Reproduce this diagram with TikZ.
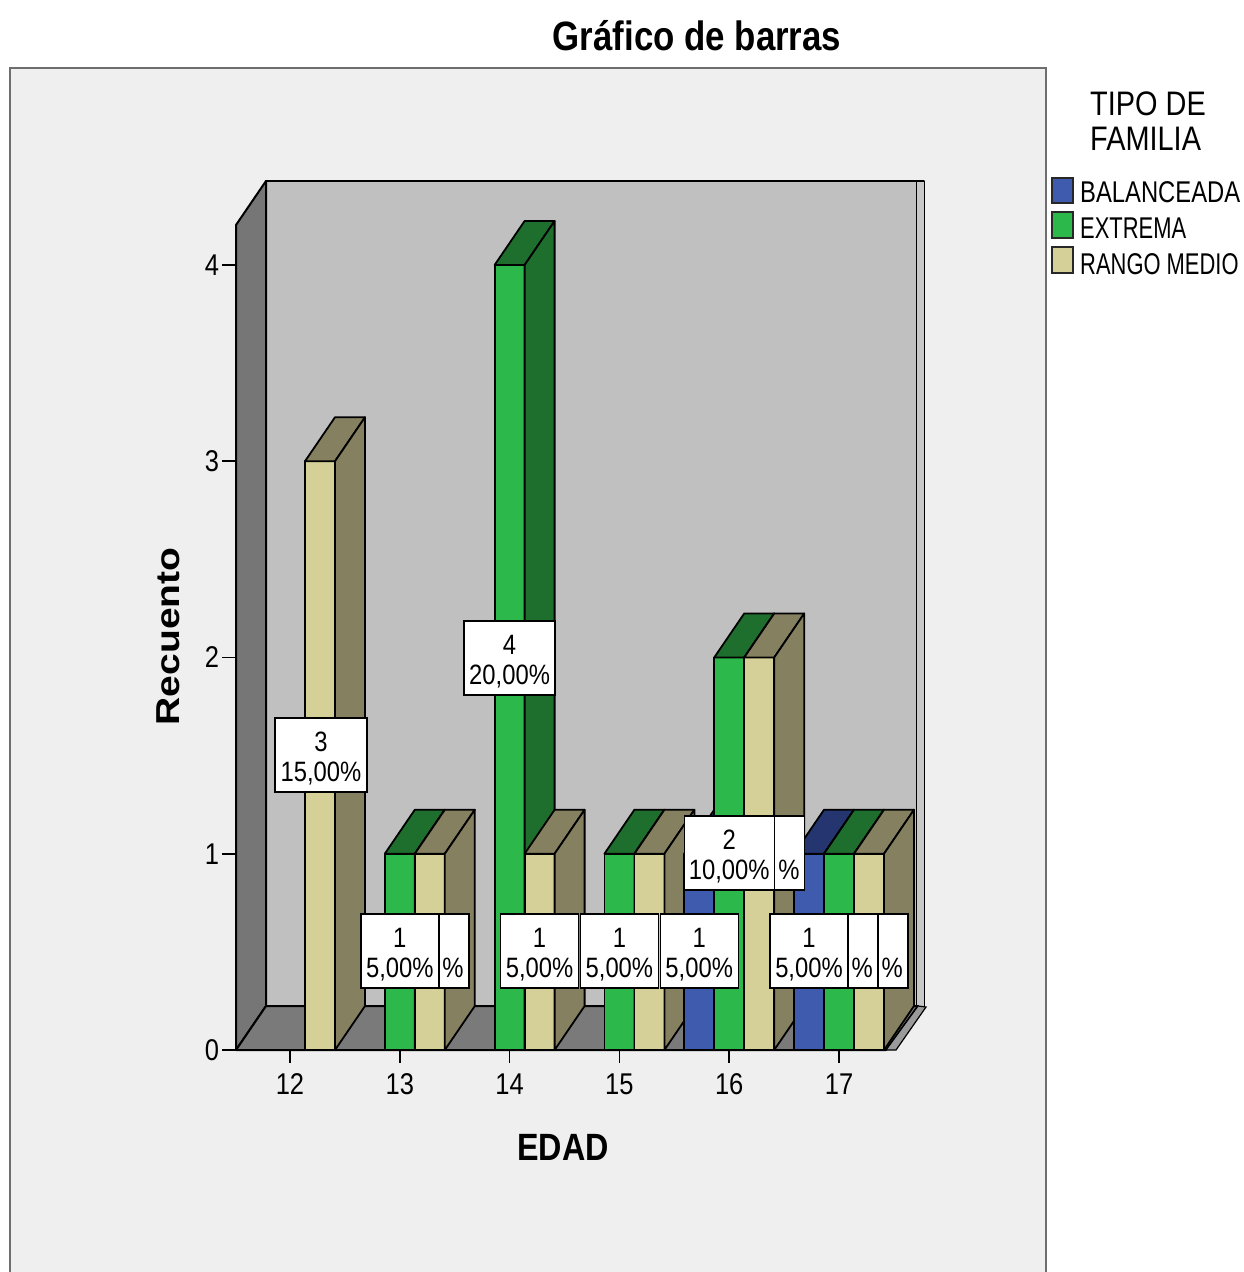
\documentclass[tikz,border=0pt]{standalone}
\usepackage{fontspec}
\setmainfont{Liberation Sans}[FakeStretch=0.85]
\newfontfamily\plainsans{Liberation Sans}
\usepackage{graphicx}
\definecolor{outerbg}{HTML}{EFEFEF}
\definecolor{framec}{HTML}{6E6E6E}
\definecolor{wallc}{HTML}{C0C0C0}
\definecolor{rwallc}{HTML}{C8C8C8}
\definecolor{sidewall}{HTML}{767676}
\definecolor{floorc}{HTML}{7A7A7A}
\definecolor{flooredge}{HTML}{9A9A9A}
\definecolor{bluef}{HTML}{3E5BAE}
\definecolor{blued}{HTML}{253570}
\definecolor{greenf}{HTML}{2DB84B}
\definecolor{greend}{HTML}{1E6F2D}
\definecolor{tanf}{HTML}{D5D097}
\definecolor{tand}{HTML}{858060}

\newcommand{\drawbar}[4]{%
  \pgfmathsetmacro{\barL}{#1}%
  \pgfmathsetmacro{\barT}{1050-196.25*#2}%
  \filldraw[barline, fill=#3] (\barL,1050) rectangle ({\barL+30},\barT);
  \filldraw[barline, fill=#4] (\barL,\barT) -- ({\barL+30},\barT) -- ({\barL+60},{\barT-44}) -- ({\barL+30},{\barT-44}) -- cycle;
  \filldraw[barline, fill=#4] ({\barL+30},1050) -- ({\barL+30},\barT) -- ({\barL+60},{\barT-44}) -- ({\barL+60},1006) -- cycle;
}
\newcommand{\fulllab}[6]{%
  \node[labbox, minimum width=#4] (#1) at (#2,#3) {};
  \node[labtxt] (#1-a) at (#2,{#3-4}) {#5};
  \node[labtxt] (#1-b) at (#2,{#3+26}) {#6};
}
\newcommand{\partlab}[5]{%
  \node[labbox, minimum width=#4] (#1) at (#2,#3) {};
  \node[labtxt] (#1-b) at (#2,{#3+26}) {\phantom{#5}\%};
}

\begin{document}
\begin{tikzpicture}[x=1pt,y=-1pt,
  barline/.style={draw=black, line width=1.8pt, line join=round},
  wall/.style={draw=black, line width=2pt, line join=round},
  axisline/.style={draw=black, line width=1.6pt},
  labbox/.style={draw=black, fill=white, line width=1.4pt, minimum height=74, inner sep=0pt},
  labtxt/.style={anchor=base, inner sep=0pt, font=\fontsize{28}{30}\selectfont},
  ticklab/.style={inner sep=0pt, font=\fontsize{30}{30}\selectfont},
  legtxt/.style={anchor=base west, inner sep=0pt, font=\fontsize{30}{30}\selectfont},
  swatch/.style={draw={rgb,255:red,40;green,40;blue,40}, line width=1.6pt}]
\useasboundingbox (0,0) rectangle (1243,1272);
\clip (0,0) rectangle (1243,1272);
\fill[white] (0,0) rectangle (1243,1272);

% title
\node[anchor=base, inner sep=0pt, font=\bfseries\fontsize{41}{41}\selectfont] (title) at (697,50) {Gráfico de barras};

% outer chart frame
\filldraw[fill=outerbg, draw=framec, line width=2.5pt] (10,68) rectangle (1046,1300);

% walls and floor
\filldraw[wall, fill=wallc] (266,181) rectangle (924,1006);
\filldraw[draw=black, line width=1pt, fill=rwallc] (916,181) rectangle (924,1006);
\filldraw[wall, fill=sidewall] (236,225) -- (266,181) -- (266,1006) -- (236,1050) -- cycle;
\filldraw[wall, fill=floorc] (236,1050) -- (266,1006) -- (918,1006) -- (886,1050) -- cycle;
\filldraw[draw=black, line width=1.2pt, fill=flooredge] (886,1050) -- (896,1050) -- (926,1007) -- (918,1006) -- cycle;

% axes
\draw[axisline] (222,1050) -- (886,1050);
\foreach \v in {0,...,4} {
  \draw[axisline] (222,{1050-196.25*\v}) -- (236,{1050-196.25*\v});
  \node[ticklab] (yt\v) at (212,{1050-196.25*\v}) {\v};
}
\foreach \lab [count=\i from 0] in {12,...,17} {
  \draw[axisline] ({290+109.8*\i},1050) -- ({290+109.8*\i},1063);
  \node[ticklab] (xt\lab) at ({290+109.8*\i},1084) {\lab};
}

% bars (left to right)
\drawbar{305}{3}{tanf}{tand}
\drawbar{384.8}{1}{greenf}{greend}
\drawbar{414.8}{1}{tanf}{tand}
\drawbar{494.6}{4}{greenf}{greend}
\drawbar{524.6}{1}{tanf}{tand}
\drawbar{604.4}{1}{greenf}{greend}
\drawbar{634.4}{1}{tanf}{tand}
\drawbar{684.2}{1}{bluef}{blued}
\drawbar{714.2}{2}{greenf}{greend}
\drawbar{744.2}{2}{tanf}{tand}
\drawbar{794}{1}{bluef}{blued}
\drawbar{824}{1}{greenf}{greend}
\drawbar{854}{1}{tanf}{tand}

% data labels
\partlab{l13t}{429.8}{951}{78}{5,00}
\fulllab{l13g}{399.8}{951}{78}{1}{5,00\%}
\fulllab{l12t}{321}{755}{92}{3}{15,00\%}
\fulllab{l14g}{509.6}{658}{91}{4}{20,00\%}
\fulllab{l14t}{539.6}{951}{78}{1}{5,00\%}
\fulllab{l15g}{619.4}{951}{78}{1}{5,00\%}
\partlab{l16t}{759.2}{853}{90}{10,00}
\fulllab{l16g}{729.2}{853}{90}{2}{10,00\%}
\fulllab{l16b}{699.2}{951}{78}{1}{5,00\%}
\partlab{l17t}{869}{951}{78}{5,00}
\partlab{l17g}{839}{951}{78}{5,00}
\fulllab{l17b}{809}{951}{78}{1}{5,00\%}

% axis titles
\node[rotate=90, inner sep=0pt, font=\plainsans\bfseries\fontsize{39}{39}\selectfont] (ytitle) at (168.5,636.5) {\scalebox{1}[0.85]{Recuento}};
\node[inner sep=0pt, font=\bfseries\fontsize{38}{38}\selectfont] (xtitle) at (563,1147) {EDAD};

% legend
\node[anchor=base west, inner sep=0pt, font=\fontsize{34}{34}\selectfont] (legt1) at (1090,115) {TIPO DE};
\node[anchor=base west, inner sep=0pt, font=\fontsize{34}{34}\selectfont] (legt2) at (1090,150) {FAMILIA};
\filldraw[swatch, fill=bluef] (1052,178) rectangle (1073,203);
\filldraw[swatch, fill=greenf] (1052,212) rectangle (1073,238);
\filldraw[swatch, fill=tanf] (1052,247) rectangle (1073,273);
\node[legtxt] (leg1) at (1080,202) {\scalebox{0.933}[1]{BALANCEADA}};
\node[legtxt] (leg2) at (1080,238) {\scalebox{0.86}[1]{EXTREMA}};
\node[legtxt] (leg3) at (1080,274) {\scalebox{0.86}[1]{RANGO MEDIO}};
\end{tikzpicture}
\end{document}
